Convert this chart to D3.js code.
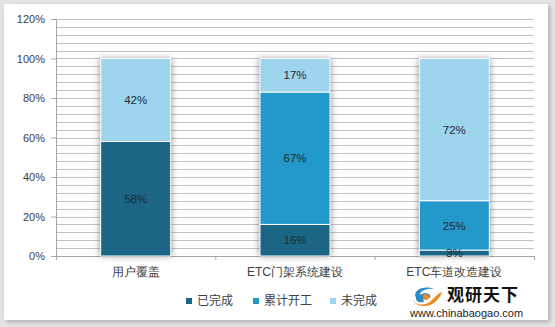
<!DOCTYPE html>
<html>
<head>
<meta charset="utf-8">
<script src="https://cdn.jsdelivr.net/npm/d3@7"></script>
<style>
  body { margin: 0; background: #e4e4e4; }
  svg { display: block; font-family: "Noto Sans CJK SC", "Liberation Sans", sans-serif; }
</style>
</head>
<body>
<svg id="chart" width="555" height="327"></svg>
<script>
// chart values
var categories = ["用户覆盖", "ETC门架系统建设", "ETC车道改造建设"];
var seriesNames = ["已完成", "累计开工", "未完成"];
var done = [58, 16, 3];
var started = [0, 67, 25];
var unfinished = [42, 17, 72];
var yTicks = [0, 20, 40, 60, 80, 100, 120];
var colors = ["#1b6585", "#2398cb", "#9dd4ee"];

var svg = d3.select("#chart");
var defs = svg.append("defs");

// card shadow
var f = defs.append("filter").attr("id", "cardShadow").attr("x", "-5%").attr("y", "-5%").attr("width", "110%").attr("height", "110%");
f.append("feGaussianBlur").attr("in", "SourceAlpha").attr("stdDeviation", 2.5);
f.append("feOffset").attr("dx", 2).attr("dy", 2).attr("result", "b");
f.append("feFlood").attr("flood-color", "#888").attr("flood-opacity", 0.6);
f.append("feComposite").attr("in2", "b").attr("operator", "in");
var fm = f.append("feMerge");
fm.append("feMergeNode");
fm.append("feMergeNode").attr("in", "SourceGraphic");

// bar shadow
var bs = defs.append("filter").attr("id", "barShadow").attr("x", "-30%").attr("y", "-10%").attr("width", "160%").attr("height", "120%");
bs.append("feGaussianBlur").attr("stdDeviation", 3);

svg.append("rect")
    .attr("x", 4).attr("y", 4).attr("width", 544).attr("height", 316)
    .attr("fill", "#fff")
    .attr("filter", "url(#cardShadow)");

var margin = { left: 56, right: 21, top: 19, bottom: 71 };
var width = 555 - margin.left - margin.right;
var height = 327 - margin.top - margin.bottom;

var g = svg.append("g").attr("transform", "translate(" + margin.left + "," + margin.top + ")");

var x = d3.scaleBand().domain(categories).range([0, width]).paddingInner(0).paddingOuter(0);
var y = d3.scaleLinear().domain([0, 120]).range([height, 0]);

// gridlines every 4%
g.append("g")
    .selectAll("line")
    .data(d3.range(4, 121, 4))
    .join("line")
    .attr("x1", 0).attr("x2", width)
    .attr("y1", function(d) { return Math.round(y(d)) + 0.5; })
    .attr("y2", function(d) { return Math.round(y(d)) + 0.5; })
    .attr("stroke", "#c2c2c2")
    .attr("stroke-width", 1.2);

// y axis
var yAxis = g.append("g")
    .call(d3.axisLeft(y).tickValues(yTicks).tickSize(5).tickPadding(6).tickFormat(function(d) { return d + "%"; }));
yAxis.select(".domain").attr("stroke", "#a6a6a6");
yAxis.selectAll(".tick line").attr("stroke", "#a6a6a6");
yAxis.selectAll("text").attr("fill", "#404040").style("font-size", "11px").style("font-family", "'Liberation Sans', sans-serif");

// x axis
var xAxis = g.append("g")
    .attr("transform", "translate(0," + height + ")")
    .call(d3.axisBottom(x).tickSize(0).tickPadding(11));
xAxis.select(".domain").attr("stroke", "#a6a6a6");
xAxis.selectAll("text").attr("fill", "#404040").style("font-size", "12px");
// boundary ticks between categories
g.append("g").selectAll("line")
    .data([0, 1, 2, 3])
    .join("line")
    .attr("x1", function(i) { return i * x.step() + 0.5; })
    .attr("x2", function(i) { return i * x.step() + 0.5; })
    .attr("y1", height).attr("y2", height + 4)
    .attr("stroke", "#a6a6a6");

// stacked data
var rows = categories.map(function(c, i) {
    return { cat: c, "已完成": done[i], "累计开工": started[i], "未完成": unfinished[i] };
});
var stacked = d3.stack().keys(seriesNames)(rows);

var barW = 70;
var bx = function(c) { return x(c) + x.bandwidth() / 2 - barW / 2; };

// shadows behind bars
g.append("g").selectAll("rect")
    .data(categories)
    .join("rect")
    .attr("x", function(c) { return bx(c) - 1; })
    .attr("y", y(100))
    .attr("width", barW + 2)
    .attr("height", height - y(100))
    .attr("fill", "#555")
    .attr("opacity", 0.6)
    .attr("filter", "url(#barShadow)");

var layers = g.append("g").selectAll("g")
    .data(stacked)
    .join("g")
    .attr("fill", function(d, i) { return colors[i]; });

layers.selectAll("rect")
    .data(function(d) { return d; })
    .join("rect")
    .attr("x", function(d) { return bx(d.data.cat); })
    .attr("y", function(d) { return y(d[1]); })
    .attr("width", barW)
    .attr("height", function(d) { return y(d[0]) - y(d[1]); })
    .attr("stroke", "#fff")
    .attr("stroke-width", 1);

// data labels
stacked.forEach(function(layer) {
    layer.forEach(function(d) {
        var v = d[1] - d[0];
        if (v <= 0) return;
        g.append("text")
            .attr("x", bx(d.data.cat) + barW / 2)
            .attr("y", y((d[0] + d[1]) / 2))
            .attr("dy", "0.36em")
            .attr("text-anchor", "middle")
            .attr("fill", "#1e2a36")
            .style("font-size", "11.5px")
            .style("font-family", "'Liberation Sans', sans-serif")
            .text(v + "%");
    });
});

// legend
var legendX = [186, 253, 330];
var legend = svg.append("g").selectAll("g")
    .data(seriesNames)
    .join("g")
    .attr("transform", function(d, i) { return "translate(" + legendX[i] + ",301)"; });
legend.append("rect")
    .attr("x", 0).attr("y", -3).attr("width", 6).attr("height", 6)
    .attr("fill", function(d, i) { return colors[i]; });
legend.append("text")
    .attr("x", 11).attr("dy", "0.36em")
    .attr("fill", "#404040")
    .style("font-size", "12px")
    .text(function(d) { return d; });

// logo
var logo = svg.append("g").attr("transform", "translate(410,284)");
logo.append("path")
    .attr("d", "M6,14 C2,6 14,1 24,5 C18,4 10,6 10,11 C14,8 22,9 20,14 C16,12 12,14 14,18 C8,19 6,17 6,14 Z")
    .attr("fill", "#2a8cc4");
logo.append("path")
    .attr("d", "M3,16 C6,22 16,22 22,16 C26,12 30,8 32,8 C30,14 24,22 14,22 C8,22 4,19 3,16 Z")
    .attr("fill", "#f08c1e");
logo.append("circle").attr("cx", 16).attr("cy", 13).attr("r", 3).attr("fill", "#f08c1e");
logo.append("text")
    .attr("x", 37).attr("y", 17)
    .attr("fill", "#111")
    .style("font-size", "17px")
    .style("font-weight", "bold")
    .style("letter-spacing", "1px")
    .text("观研天下");
logo.append("text")
    .attr("x", 0).attr("y", 33)
    .attr("fill", "#222")
    .style("font-size", "11px")
    .style("font-family", "'Liberation Sans', sans-serif")
    .text("www.chinabaogao.com");
</script>
</body>
</html>
